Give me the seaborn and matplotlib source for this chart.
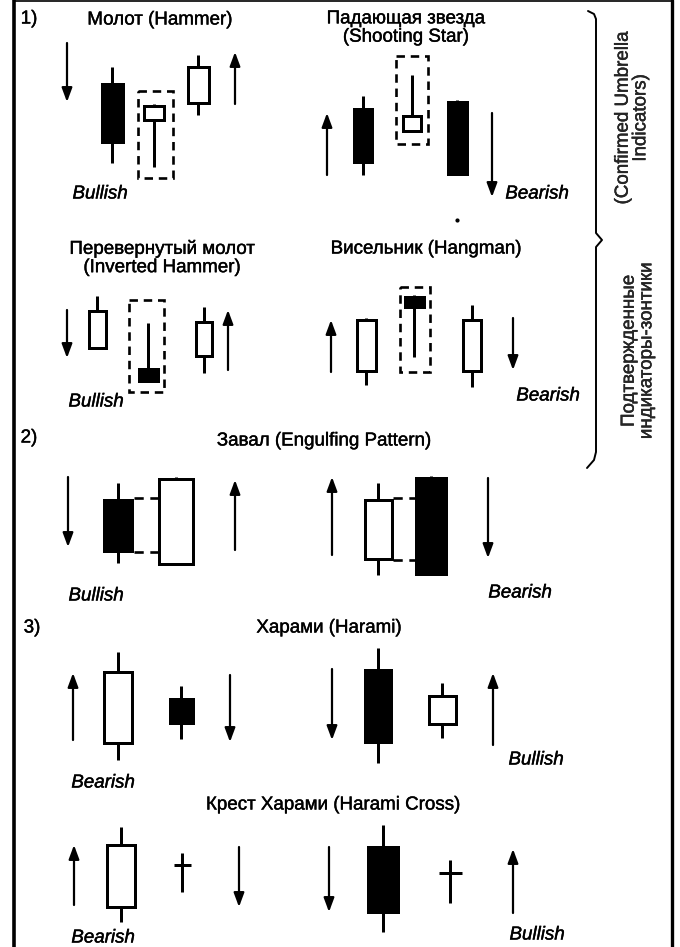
import matplotlib
matplotlib.use("Agg")
import matplotlib.pyplot as plt
import seaborn as sns
from matplotlib.patches import Rectangle
import matplotlib.patheffects as pe

sns.set_style("white")
plt.rcParams['font.family'] = ['Liberation Sans', 'DejaVu Sans']

# ---- candle data (pixel layout of the schematic) ----
candle_x    = [112, 154, 198, 363, 412, 457, 97, 148, 204, 366, 414, 472,
               118, 176, 378, 431, 118, 181, 378, 442, 121, 383, 182, 450]
candle_w    = [24, 23, 24, 21, 21, 22, 20, 22, 19, 22, 22, 21,
               31, 37, 30, 33, 31, 26, 29, 30, 31, 33, 20, 26]
body_top    = [82, 104, 65, 107, 114, 100, 309, 367, 320, 318, 295, 318,
               498, 477, 498, 476, 670, 697, 668, 694, 843, 845, 863, 871]
body_bot    = [143, 121, 104, 163, 132, 175, 349, 382, 357, 372, 308, 372,
               552, 565, 560, 575, 744, 724, 743, 725, 908, 913, 866, 874]
wick_top    = [67, 104, 55, 96, 75, 100, 296, 323, 307, 318, 295, 305,
               483, 477, 483, 476, 652, 686, 648, 683, 827, 825, 853, 860]
wick_bot    = [163, 167, 115, 175, 132, 175, 349, 382, 373, 385, 357, 387,
               563, 565, 575, 575, 760, 739, 763, 738, 922, 932, 892, 903]
candle_fill = ['k', 'w', 'w', 'k', 'w', 'k', 'w', 'k', 'w', 'w', 'k', 'w',
               'k', 'w', 'w', 'k', 'w', 'k', 'k', 'w', 'w', 'k', 'k', 'k']

# ---- trend arrows: x, tail y, tip y ----
arrow_x    = [67, 235, 327, 492, 67, 228, 331, 513, 68, 235,
              332, 488, 73, 230, 332, 493, 74, 239, 329, 513]
arrow_tail = [43, 104, 175, 113, 310, 370, 372, 318, 477, 550,
              555, 478, 740, 675, 669, 745, 905, 847, 847, 913]
arrow_tip  = [102, 52, 113, 197, 358, 310, 320, 370, 547, 480,
              477, 558, 673, 742, 740, 673, 845, 907, 912, 849]

# ---- dashed highlight boxes: x0, x1, y0, y1 ----
box_x0 = [138, 396, 129, 400]
box_x1 = [173, 428, 164, 430]
box_y0 = [91, 56, 300, 287]
box_y1 = [178, 144, 392, 372]

# ---- dashed engulfing connectors: x0, x1, y ----
conn_x0 = [134, 134, 393, 393]
conn_x1 = [158, 158, 416, 416]
conn_y  = [498, 552, 498, 560]

# ---- texts ----
titles   = ["Молот (Hammer)", "Падающая звезда\n(Shooting Star)",
            "Перевернутый молот\n(Inverted Hammer)", "Висельник (Hangman)",
            "Завал (Engulfing Pattern)", "Харами (Harami)",
            "Крест Харами (Harami Cross)"]
title_x  = [160, 406, 162, 426, 324, 329, 333]
title_y  = [20, 28, 258, 249, 441, 628, 805]
numbers  = ["1)", "2)", "3)"]
number_x = [29, 29, 32]
number_y = [19, 438, 628]
signals   = ["Bullish", "Bearish", "Bullish", "Bearish", "Bullish", "Bearish",
             "Bearish", "Bullish", "Bearish", "Bullish"]
signal_x  = [100, 537, 96, 548, 96, 520, 103, 536, 103, 537]
signal_y  = [194, 194, 402, 396, 596, 593, 783, 760, 938, 935]

W, H = 680, 947
fig = plt.figure(figsize=(W / 100, H / 100), dpi=100)
ax = fig.add_axes([0, 0, 1, 1])
ax.set_xlim(0, W)
ax.set_ylim(H, 0)
ax.axis('off')

LW = 3 * 72 / 100  # 3 px
ins = 1.5
bold = [pe.withStroke(linewidth=0.3, foreground='black')]

# wicks
ax.vlines(candle_x, wick_top, wick_bot, colors='black', linewidth=LW, zorder=2)
# bodies
heights = [max(b - t - 2 * ins, 0.5) for t, b in zip(body_top, body_bot)]
bottoms = [t + ins for t in body_top]
widths = [w - 2 * ins for w in candle_w]
ax.bar(candle_x, heights, bottom=bottoms, width=widths, color=candle_fill,
       edgecolor='black', linewidth=LW, zorder=3)

# arrows
for x, t0, t1 in zip(arrow_x, arrow_tail, arrow_tip):
    ax.annotate('', xy=(x, t1), xytext=(x, t0),
                arrowprops=dict(arrowstyle='-|>,head_length=0.7,head_width=0.26',
                                color='black', lw=1.6, mutation_scale=12,
                                shrinkA=0, shrinkB=0), zorder=4)

# dashed boxes
for x0, x1, y0, y1 in zip(box_x0, box_x1, box_y0, box_y1):
    ax.add_patch(Rectangle((x0, y0), x1 - x0, y1 - y0, fill=False,
                           edgecolor='black', linewidth=1.9,
                           linestyle=(0, (3.2, 2.2)), zorder=1))

# connectors
for x0, x1, y in zip(conn_x0, conn_x1, conn_y):
    ax.plot([x0, x1], [y, y], color='black', lw=1.9,
            linestyle=(0, (3.5, 2.5)), zorder=1)

# frame
ax.plot([14, 14], [0, H], color='black', lw=2.6)
ax.plot([672, 672], [0, H], color='black', lw=2.4)
ax.plot([14, 672], [1, 1], color='black', lw=1.2)

# brace
ax.plot([588, 594, 596, 596, 602, 596, 596, 594, 587],
        [11, 14, 19, 233, 240, 247, 452, 460, 468], color='black', lw=1.4)

# texts
for s, x, y in zip(titles, title_x, title_y):
    ax.text(x, y, s, ha='center', va='center', fontsize=13.5,
            linespacing=1.1, color='black', path_effects=bold)
for s, x, y in zip(numbers, number_x, number_y):
    ax.text(x, y, s, ha='center', va='center', fontsize=13.5, color='black',
            path_effects=bold)
for s, x, y in zip(signals, signal_x, signal_y):
    ax.text(x, y, s, ha='center', va='center', fontsize=13.5,
            style='italic', color='black', path_effects=bold)

ax.text(632, 118, "(Confirmed Umbrella\nIndicators)", rotation=90,
        ha='center', va='center', fontsize=13.5, linespacing=1.05,
        path_effects=bold)
ax.text(638, 351, "Подтвержденные\nиндикаторы-зонтики", rotation=90,
        ha='center', va='center', fontsize=13.5, linespacing=1.05,
        path_effects=bold)

# stray print dot
ax.scatter([457], [220], s=4, color='black')

fig.savefig("out.png", dpi=100)
